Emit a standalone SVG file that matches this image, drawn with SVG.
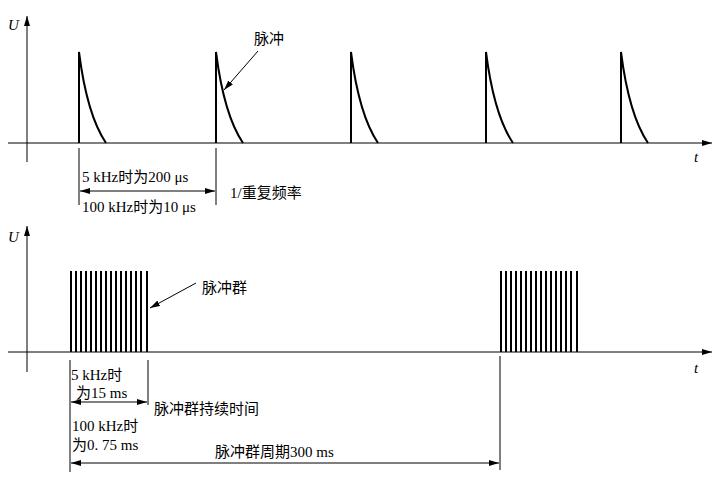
<svg xmlns="http://www.w3.org/2000/svg" width="721" height="482" viewBox="0 0 721 482">
<defs>
<marker id="a" markerWidth="10" markerHeight="6" refX="10" refY="3" orient="auto-start-reverse" markerUnits="userSpaceOnUse"><path d="M0,0 L10,3 L0,6 Z" fill="#000"/></marker>
<path id="p" d="M0,143 V52 Q8,115 27,143" fill="none" stroke="#000" stroke-width="2"/>
</defs>
<style>
text{font-family:"Liberation Serif","Noto Sans CJK SC",serif;font-size:15px;fill:#000}
.l{stroke:#000;stroke-width:1;fill:none}
.b{stroke:#000;stroke-width:2}
.i{font-style:italic}
</style>
<rect width="721" height="482" fill="#fff"/>
<g id="axes">
<line class="l" x1="27" y1="162" x2="27" y2="16" marker-end="url(#a)"/>
<line class="l" x1="8" y1="143" x2="712" y2="143" marker-end="url(#a)"/>
<line class="l" x1="27" y1="372" x2="27" y2="226" marker-end="url(#a)"/>
<line class="l" x1="8" y1="352" x2="712" y2="352" marker-end="url(#a)"/>
<text class="i" x="8" y="30">U</text><text class="i" x="694" y="162">t</text>
<text class="i" x="8" y="242">U</text><text class="i" x="694" y="373">t</text>
</g>
<g id="pulses">
<use href="#p" x="79"/><use href="#p" x="216"/><use href="#p" x="351"/><use href="#p" x="486"/><use href="#p" x="621"/>
</g>
<g id="bursts">
<path class="b" d="M71,271V352M76,271V352M81,271V352M86,271V352M91,271V352M96,271V352M101,271V352M106,271V352M111,271V352M116,271V352M121,271V352M126,271V352M131,271V352M136,271V352M141,271V352M147,271V352"/>
<path class="b" d="M501,271V352M506,271V352M511,271V352M516,271V352M521,271V352M526,271V352M531,271V352M536,271V352M541,271V352M546,271V352M551,271V352M556,271V352M561,271V352M566,271V352M571,271V352M577,271V352"/>
</g>
<g id="connectors">
<line class="l" x1="79" y1="148" x2="79" y2="205"/>
<line class="l" x1="216" y1="148" x2="216" y2="205"/>
<line class="l" x1="80" y1="191" x2="215" y2="191" marker-start="url(#a)" marker-end="url(#a)"/>
<line class="l" x1="258" y1="51" x2="224" y2="90" marker-end="url(#a)"/>
<line class="l" x1="196" y1="283" x2="150" y2="308" marker-end="url(#a)"/>
<line class="l" x1="70" y1="360" x2="70" y2="472"/>
<line class="l" x1="148" y1="360" x2="148" y2="405"/>
<line class="l" x1="71" y1="402" x2="147" y2="402" marker-start="url(#a)" marker-end="url(#a)"/>
<line class="l" x1="500" y1="356" x2="500" y2="470"/>
<line class="l" x1="71" y1="463" x2="499" y2="463" marker-start="url(#a)" marker-end="url(#a)"/>
</g>
<g id="labels">
<text x="254" y="44">脉冲</text>
<text x="82" y="182">5 kHz时为200 μs</text>
<text x="82" y="212">100 kHz时为10 μs</text>
<text x="230" y="198">1/重复频率</text>
<text x="202" y="293">脉冲群</text>
<text x="71" y="380">5 kHz时</text>
<text x="76" y="398">为15 ms</text>
<text x="154" y="414">脉冲群持续时间</text>
<text x="72" y="431">100 kHz时</text>
<text x="72" y="450">为0. 75 ms</text>
<text x="215" y="457">脉冲群周期300 ms</text>
</g>
</svg>
